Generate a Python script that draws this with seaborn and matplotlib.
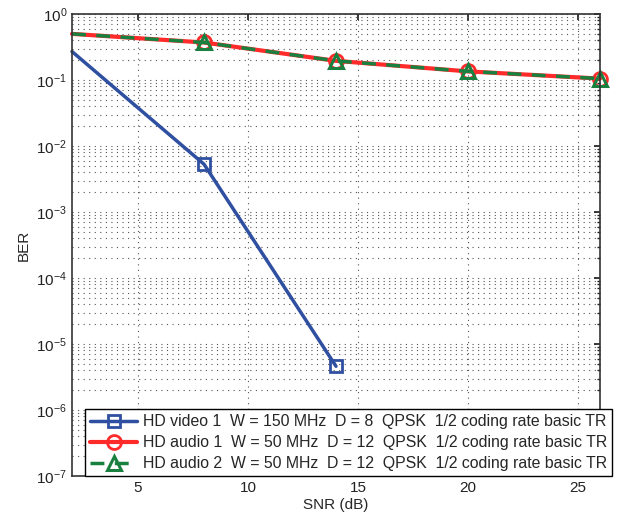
import numpy as np
import pandas as pd
import matplotlib
matplotlib.use("Agg")
import matplotlib.pyplot as plt
import seaborn as sns

# Data
snr_video = [2, 8, 14]
ber_video = [0.27, 5.3e-3, 4.6e-6]
snr_audio = [2, 8, 14, 20, 26]
ber_audio1 = [0.50, 0.37, 0.195, 0.135, 0.105]
ber_audio2 = [0.50, 0.37, 0.195, 0.135, 0.105]
labels = [
    "HD video 1  W = 150 MHz  D = 8  QPSK  1/2 coding rate basic TR",
    "HD audio 1  W = 50 MHz  D = 12  QPSK  1/2 coding rate basic TR",
    "HD audio 2  W = 50 MHz  D = 12  QPSK  1/2 coding rate basic TR",
]
xticks = [5, 10, 15, 20, 25]

sns.set_theme(style="white")
plt.rcParams["font.family"] = ["Liberation Sans", "DejaVu Sans"]
plt.rcParams["mathtext.fontset"] = "custom"
plt.rcParams["mathtext.rm"] = "Liberation Sans"
plt.rcParams["mathtext.it"] = "Liberation Sans"

fig = plt.figure(figsize=(6.18, 5.14), dpi=100)
ax = fig.add_axes([72/618, 1-476/514, 528/618, 462/514])

df_v = pd.DataFrame({"x": snr_video, "y": ber_video})
df_a1 = pd.DataFrame({"x": snr_audio, "y": ber_audio1})
df_a2 = pd.DataFrame({"x": snr_audio, "y": ber_audio2})

blue = "#2f4fa0"
red = "#ff2a2a"
green = "#1a8040"

sns.lineplot(data=df_v, x="x", y="y", ax=ax, color=blue, lw=2.5, marker="s",
             markersize=8, markerfacecolor="none", markeredgecolor=blue,
             markeredgewidth=2, markevery=[1, 2], label=labels[0], clip_on=False)
sns.lineplot(data=df_a1, x="x", y="y", ax=ax, color=red, lw=3, marker="o",
             markersize=10, markerfacecolor="none", markeredgecolor=red,
             markeredgewidth=2, markevery=[1, 2, 3, 4], label=labels[1], clip_on=False)
sns.lineplot(data=df_a2, x="x", y="y", ax=ax, color=green, lw=2.5, linestyle=(0, (4, 3)),
             marker="^", markersize=10, markerfacecolor="none", markeredgecolor=green,
             markeredgewidth=2.2, markevery=[1, 2, 3, 4], label=labels[2], clip_on=False)

ax.set_yscale("log")
ax.set_xlim(2, 26)
ax.set_ylim(1e-7, 1)
ax.set_xticks(xticks)
ax.set_yticks([10.0**k for k in range(-7, 1)])
ax.grid(True, which="major", color="#555555", linestyle=(0, (1, 4)), lw=0.8)
ax.grid(True, which="minor", axis="y", color="#555555", linestyle=(0, (1, 4)), lw=0.8)
ax.xaxis.set_minor_locator(matplotlib.ticker.NullLocator())
ax.tick_params(which="both", direction="in", top=True, right=True, labelsize=11,
               colors="#222222", length=4)
ax.tick_params(which="minor", length=2)
for s in ax.spines.values():
    s.set_color("#333333")
    s.set_linewidth(1.2)
ax.set_xlabel("SNR (dB)", fontsize=11, labelpad=2)
ax.set_ylabel("BER", fontsize=11, labelpad=4)

leg = ax.legend(loc="lower left", bbox_to_anchor=(0.025, 0.0), fontsize=11.4,
                handlelength=3.0, handletextpad=0.33, borderpad=0.3, labelspacing=0.38,
                frameon=True, fancybox=False, edgecolor="black", framealpha=1,
                borderaxespad=0)
leg.get_frame().set_linewidth(1.0)

fig.savefig("out.png", dpi=100)
